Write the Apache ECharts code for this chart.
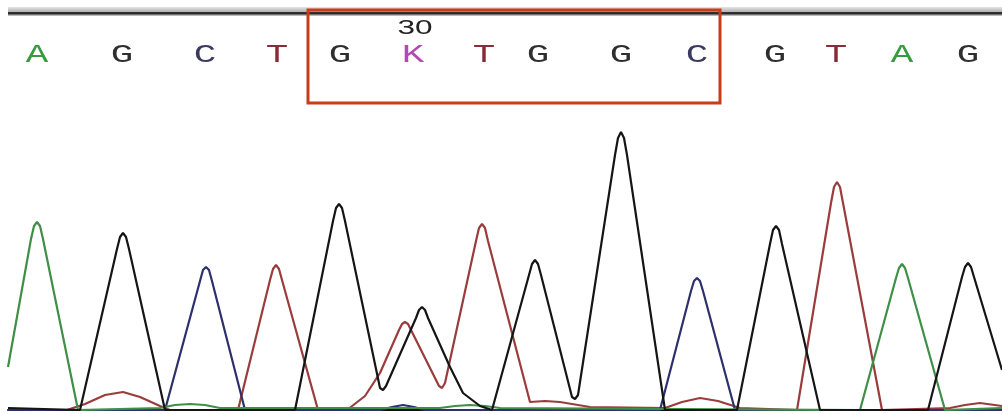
<!DOCTYPE html>
<html>
<head>
<meta charset="utf-8">
<script src="https://cdn.jsdelivr.net/npm/echarts@6/dist/echarts.min.js"></script>
<style>
html, body { margin: 0; padding: 0; background: #fff; }
#chart { width: 1002px; height: 414px; }
</style>
</head>
<body>
<div id="chart"></div>
<script>
// trace points: [scan position, signal]
var traceA = [[8,43],[31,171],[34,184],[37,188],[40,184],[43,171],[78,0],[160,2],[175,5],[190,6],[205,5],[220,2],
    [440,2],[455,4],[470,5],[485,4],[500,2],[860,0],[896,132],[899,142],[902,146],[905,142],[908,132],[945,0],[1002,2]];
var traceG = [[8,2],[80,0],[117,161],[120,173],[123,177],[126,173],[129,161],[165,0],[295,0],
    [333,189],[336,202],[339,206],[342,202],[345,189],[380,22],[383,20],[386,24],
    [416,92],[419,100],[422,103],[425,100],[428,92],[450,43],[463,17],[480,4],[492,0],
    [529,135],[532,146],[535,150],[538,146],[541,135],[572,13],[575,11],[578,15],
    [615,255],[618,272],[621,278],[624,272],[627,255],[665,0],[737,0],
    [770,166],[773,180],[776,184],[779,180],[782,166],[820,0],[928,0],
    [962,133],[965,143],[968,147],[971,143],[974,133],[1002,40]];
var traceC = [[8,0],[165,0],[200,129],[203,140],[206,143],[209,140],[212,129],[245,0],[380,0],[392,3],
    [403,5],[414,3],[425,0],[660,0],[691,119],[694,129],[697,132],[700,129],[703,119],[735,0],[1002,0]];
var traceT = [[8,0],[67,0],[85,6],[105,15],[123,18],[140,13],[160,4],[170,0],[238,0],
    [270,130],[273,141],[276,145],[279,141],[282,130],[318,0],[347,0],[365,14],[380,37],
    [399,80],[402,86],[405,88],[408,86],[411,80],[439,24],[442,22],[445,27],
    [476,169],[479,182],[482,186],[485,182],[488,169],[530,8],[545,9],[560,8],[590,3],[665,2],
    [682,8],[700,12],[718,9],[740,2],[797,0],[831,207],[834,223],[837,228],[840,223],[843,207],
    [882,0],[950,2],[965,5],[980,7],[1002,4]];

// base calls along the top
var bases = ['A','G','C','T','G','K','T','G','G','C','G','T','A','G'];
var basePos = [37,122,205,277,340,413,484,538,621,697,775,836,902,968];
var posLabels = ['30'];
var posLabelX = [415];

var colors = {A:'#3f8f47', G:'#151515', C:'#2c306c', T:'#9a3c3c'};
var letterColors = {A:'#3a9a40', G:'#2e2e2e', C:'#3a3a60', T:'#8a2c38', K:'#b348b3'};

var chart = echarts.init(document.getElementById('chart'));

function trace(name, data) {
    return {
        name: name,
        type: 'line',
        data: data,
        symbol: 'none',
        silent: true,
        lineStyle: { color: colors[name], width: 2.2 }
    };
}

var gSeries = trace('G', traceG);
gSeries.markArea = {
    silent: true,
    itemStyle: { color: 'transparent', borderColor: '#c83c1a', borderWidth: 3 },
    data: [[{ coord: [308, 400] }, { coord: [720, 307] }]]
};

option = {
    animation: false,
    backgroundColor: '#fff',
    grid: { left: 8, right: 0, top: 10, bottom: 4 },
    xAxis: {
        type: 'value', min: 8, max: 1002,
        axisLine: { show: true, lineStyle: { color: '#111', width: 2 } },
        axisTick: { show: false }, axisLabel: { show: false }, splitLine: { show: false }
    },
    yAxis: {
        type: 'value', min: 0, max: 400, show: false, splitLine: { show: false }
    },
    series: [
        trace('T', traceT),
        trace('C', traceC),
        trace('A', traceA),
        gSeries
    ]
};

chart.setOption(option);

// top bar plus the stretched base-call letters, placed through the axes
var graphics = [{
    type: 'rect', left: 8, top: 7, silent: true,
    shape: { width: 994, height: 9 },
    style: {
        fill: new echarts.graphic.LinearGradient(0, 0, 0, 1, [
            { offset: 0, color: '#e4e4e4' },
            { offset: 0.55, color: '#b0b0b0' },
            { offset: 0.6, color: '#333' },
            { offset: 0.8, color: '#222' },
            { offset: 0.85, color: '#999' },
            { offset: 1, color: '#ccc' }
        ])
    }
}];
bases.forEach(function (b, i) {
    var p = chart.convertToPixel({ gridIndex: 0 }, [basePos[i], 355]);
    graphics.push({
        type: 'text', x: p[0], y: p[1], scaleX: 1.5, silent: true,
        style: {
            text: b, fill: letterColors[b], align: 'center', verticalAlign: 'middle',
            fontFamily: 'Liberation Mono', fontSize: 25
        }
    });
});
posLabels.forEach(function (t, i) {
    var p = chart.convertToPixel({ gridIndex: 0 }, [posLabelX[i], 382]);
    graphics.push({
        type: 'text', x: p[0], y: p[1], scaleX: 1.5, silent: true,
        style: {
            text: t, fill: '#222', align: 'center', verticalAlign: 'middle',
            fontFamily: 'Liberation Sans', fontSize: 21
        }
    });
});
chart.setOption({ graphic: graphics });
</script>
</body>
</html>
